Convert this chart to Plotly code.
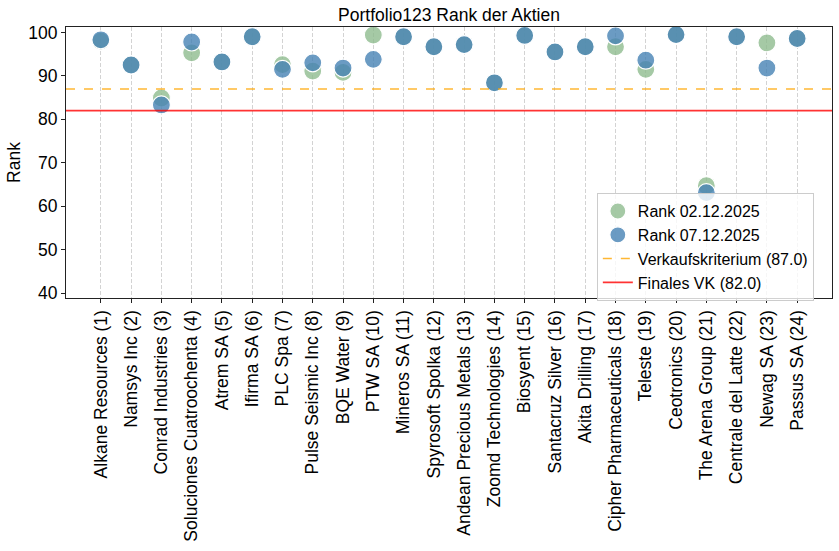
import plotly.graph_objects as go

categories = ["Alkane Resources (1)", "Namsys Inc (2)", "Conrad Industries (3)",
              "Soluciones Cuatroochenta (4)", "Atrem SA (5)", "Ifirma SA (6)", "PLC Spa (7)",
              "Pulse Seismic Inc (8)", "BQE Water (9)", "PTW SA (10)", "Mineros SA (11)",
              "Spyrosoft Spolka (12)", "Andean Precious Metals (13)", "Zoomd Technologies (14)",
              "Biosyent (15)", "Santacruz Silver (16)", "Akita Drilling (17)",
              "Cipher Pharmaceuticals (18)", "Teleste (19)", "Ceotronics (20)",
              "The Arena Group (21)", "Centrale del Latte (22)", "Newag SA (23)", "Passus SA (24)"]
rank_0212 = [98.0, 92.5, 84.9, 95.3, 93.2, 99.0, 92.6, 91.1, 90.8, 99.4, 99.0, 96.7,
             97.2, 88.4, 99.3, 95.5, 96.7, 96.7, 91.5, 99.5, 64.7, 99.0, 97.6, 98.6]
rank_0712 = [98.3, 92.5, 83.3, 97.8, 93.2, 99.0, 91.5, 93.0, 91.8, 93.8, 99.0, 96.7,
             97.2, 88.4, 99.3, 95.5, 96.7, 99.2, 93.6, 99.5, 63.1, 99.0, 91.8, 98.6]
vk = 87.0
final_vk = 82.0

FONT = "Liberation Sans, Arial, sans-serif"
fig = go.Figure()
fig.add_trace(go.Scatter(x=list(range(len(categories))), y=rank_0212, mode="markers",
                         name="Rank 02.12.2025",
                         marker=dict(size=18, color="rgba(143,188,143,0.8)",
                                     line=dict(color="white", width=1.2))))
fig.add_trace(go.Scatter(x=list(range(len(categories))), y=rank_0712, mode="markers",
                         name="Rank 07.12.2025",
                         marker=dict(size=18, color="rgba(70,130,180,0.8)",
                                     line=dict(color="white", width=1.2))))
fig.add_trace(go.Scatter(x=[None], y=[None], mode="lines",
                         name="Verkaufskriterium (%.1f)" % vk,
                         line=dict(color="rgba(255,165,0,0.8)", width=1.5, dash="dash")))
fig.add_trace(go.Scatter(x=[None], y=[None], mode="lines",
                         name="Finales VK (%.1f)" % final_vk,
                         line=dict(color="rgba(255,0,0,0.8)", width=1.6)))
fig.add_hline(y=vk, line=dict(color="rgba(255,165,0,0.8)", width=1.5, dash="dash"))
fig.add_hline(y=final_vk, line=dict(color="rgba(255,0,0,0.8)", width=1.6))

fig.update_layout(
    width=839, height=551,
    paper_bgcolor="white", plot_bgcolor="white",
    margin=dict(l=66, r=7, t=27, b=253),
    font=dict(family=FONT, size=17.5, color="black"),
    title=dict(text="Portfolio123 Rank der Aktien", x=(66 + 832) / 2 / 839, xanchor="center",
               y=1 - 15 / 551, yanchor="middle", yref="container",
               font=dict(size=17.5, family=FONT)),
    showlegend=True,
    legend=dict(x=0.693, y=0.387, xanchor="left", yanchor="top",
                bgcolor="rgba(255,255,255,0.8)", bordercolor="#cccccc", borderwidth=1,
                font=dict(size=16, family=FONT), itemsizing="trace",
                tracegroupgap=0),
)
fig.update_xaxes(
    tickmode="array", tickvals=list(range(len(categories))), ticktext=categories,
    tickangle=-90, range=[-1.15, 24.15], automargin=False,
    showgrid=True, gridcolor="#d3d3d3", griddash="4px,2px", gridwidth=0.7,
    showline=True, linecolor="#222222", linewidth=1.2, mirror=True,
    ticks="outside", ticklen=4, tickcolor="#222222", zeroline=False,
    tickfont=dict(size=17.5, family=FONT),
)
fig.update_yaxes(
    range=[38.85, 101.25], tickvals=[40, 50, 60, 70, 80, 90, 100], automargin=False,
    showgrid=False, showline=True, linecolor="#222222", linewidth=1.2, mirror=True,
    ticks="outside", ticklen=4, tickcolor="#222222", zeroline=False,
    title=dict(text="Rank", font=dict(size=17.5, family=FONT), standoff=3),
    tickfont=dict(size=17.5, family=FONT),
)
fig.write_html("out.html", config={"displayModeBar": False},
               post_script="document.body.style.margin='0';document.body.style.overflow='hidden';")
